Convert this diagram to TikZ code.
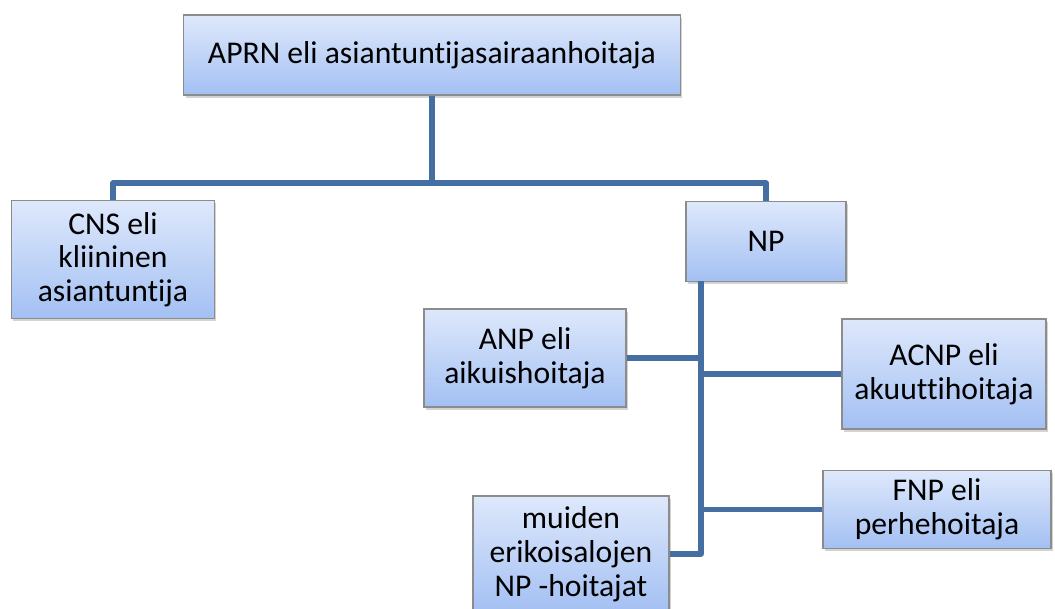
\documentclass[tikz,border=0pt]{standalone}
\usepackage{fontspec}
\setmainfont{Carlito}[Ligatures=NoCommon]
\usetikzlibrary{positioning, shadows}

\definecolor{linkblue}{RGB}{69,111,163}
\definecolor{boxtop}{RGB}{222,232,251}
\definecolor{boxbottom}{RGB}{163,192,243}
\definecolor{boxline}{RGB}{140,140,140}

\begin{document}
\begin{tikzpicture}[
                x=0.025cm, y=-0.025cm,
                box/.style={
                  draw=boxline, line width=0.8pt,
                  top color=boxtop, bottom color=boxbottom,
                  align=center, inner sep=2pt,
                  font=\fontsize{22.5}{24}\selectfont,
                  drop shadow={shadow xshift=1.2pt, shadow yshift=-1.8pt, opacity=0.35}
                },
                link/.style={draw=linkblue, line width=3.6pt, line join=round}
              ]

              \clip (0,0) rectangle (1055,608);

              \node (APRN) [box, minimum width=12.4cm, minimum height=2cm] at (432,55) {APRN eli asiantuntijasairaanhoitaja};
              \node (CNS) [box, minimum width=5.08cm, minimum height=2.93cm] at (113,259.5) {CNS eli\\kliininen\\asiantuntija};
              \node (NP) [box, minimum width=4cm, minimum height=1.98cm] at (766,241.5) {NP};
              \node (ANP) [box, minimum width=5.05cm, minimum height=2.45cm] at (525,358) {ANP eli\\aikuishoitaja};
              \node (ACNP) [box, minimum width=5.1cm, minimum height=2.75cm] at (944,374) {ACNP eli\\akuuttihoitaja};
              \node (FNP) [box, minimum width=5.7cm, minimum height=1.93cm] at (937,509.5) {FNP eli\\perhehoitaja};
              \node (OTH) [box, minimum width=4.9cm, minimum height=2.9cm] at (571,554) {muiden\\erikoisalojen\\NP -hoitajat};

              \coordinate (hub) at (432,183);
              \coordinate (trunk) at (701,281);

              % Draw connectors
              \draw[link] (APRN.south) -- (hub);
              \draw[link] (CNS.north) |- (hub);
              \draw[link] (NP.north) |- (hub);
              \draw[link] (trunk) |- (OTH.east);
              \draw[link] (ANP.east) -- (ANP.east -| trunk);
              \draw[link] (ACNP.west) -- (ACNP.west -| trunk);
              \draw[link] (FNP.west) -- (FNP.west -| trunk);

            \end{tikzpicture}
\end{document}
